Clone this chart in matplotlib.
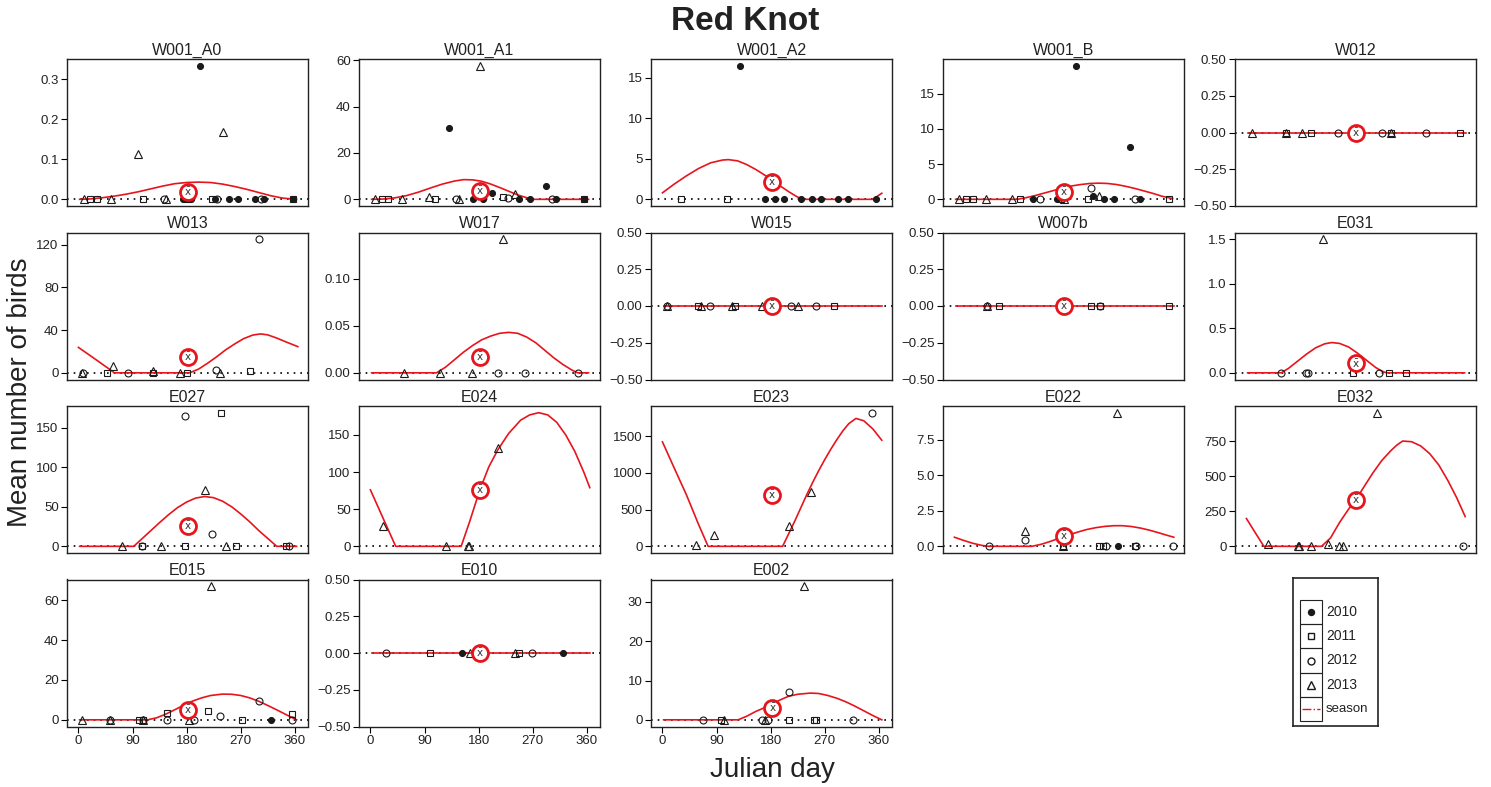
# Red Knot: mean number of birds per Julian day, one panel per site

import matplotlib
matplotlib.use('Agg')
import matplotlib.pyplot as plt
from matplotlib.patches import Rectangle
from matplotlib.ticker import MultipleLocator, FuncFormatter

plt.rcParams['font.family'] = ['Liberation Sans', 'DejaVu Sans']

# points: (year, julian day, mean count)
W001_A0_pts = [(2013, 10, 0), (2011, 20, 0), (2011, 31, 0), (2013, 54, 0), (2013, 99, 0.113),
               (2011, 108, 0), (2012, 143, 0), (2013, 146, 0), (2010, 174, 0), (2010, 178, 0),
               (2011, 181, 0), (2010, 184, 0), (2010, 188, 0), (2010, 203, 0.334), (2013, 240, 0.168),
               (2011, 223, 0), (2010, 228, 0), (2012, 230, 0), (2010, 250, 0), (2010, 266, 0),
               (2010, 293, 0), (2012, 303, 0), (2010, 309, 0), (2011, 357, 0), (2010, 357, 0)]
W001_A1_pts = [(2013, 8, 0), (2011, 20, 0), (2011, 30, 0), (2013, 53, 0), (2013, 97, 1.2),
               (2011, 108, 0), (2010, 131, 30.7), (2012, 143, 0), (2013, 148, 0), (2010, 171, 0),
               (2013, 182, 57.7), (2010, 187, 0), (2010, 203, 2.6), (2011, 220, 1.1), (2012, 229, 0.5),
               (2013, 240, 2.2), (2010, 248, 0), (2010, 265, 0), (2010, 292, 5.8), (2012, 302, 0),
               (2010, 309, 0), (2011, 355, 0), (2010, 355, 0)]
W001_A2_pts = [(2011, 31, 0), (2011, 107, 0), (2010, 129, 16.5), (2010, 171, 0), (2010, 187, 0),
               (2010, 202, 0), (2010, 231, 0), (2010, 249, 0), (2010, 264, 0), (2010, 292, 0),
               (2010, 309, 0), (2010, 356, 0)]
W001_B_pts = [(2013, 8, 0), (2011, 20, 0), (2011, 31, 0), (2013, 53, 0), (2013, 96, 0),
              (2011, 109, 0), (2010, 131, 0), (2012, 142, 0), (2010, 171, 0), (2011, 178, 0),
              (2013, 182, 0), (2010, 203, 19.0), (2011, 222, 0), (2012, 228, 1.6), (2010, 231, 0.5),
              (2013, 240, 0.5), (2010, 249, 0), (2010, 265, 0), (2010, 292, 7.4), (2012, 301, 0),
              (2010, 309, 0), (2011, 357, 0)]
W012_pts = [(2013, 9, 0), (2013, 66, 0), (2011, 66, 0), (2013, 93, 0), (2011, 107, 0),
            (2012, 153, 0), (2012, 226, 0), (2013, 240, 0), (2011, 241, 0), (2012, 298, 0),
            (2011, 356, 0)]
W013_pts = [(2013, 6, 0), (2012, 8, 0), (2011, 47, 0), (2013, 57, 6.6), (2012, 82, 0),
            (2011, 124, 0), (2013, 124, 2.0), (2013, 169, 0), (2011, 180, 0), (2012, 229, 2.5),
            (2013, 236, 0), (2011, 286, 1.5), (2012, 301, 125)]
W017_pts = [(2013, 56, 0), (2013, 115, 0), (2013, 169, 0), (2012, 212, 0), (2013, 221, 0.142),
            (2012, 257, 0), (2012, 345, 0)]
W015_pts = [(2013, 8, 0), (2012, 8, 0), (2011, 59, 0), (2013, 65, 0), (2012, 80, 0),
            (2013, 115, 0), (2011, 121, 0), (2013, 166, 0), (2012, 214, 0), (2013, 226, 0),
            (2012, 256, 0), (2011, 286, 0)]
W007b_pts = [(2013, 54, 0), (2012, 54, 0), (2011, 75, 0), (2011, 227, 0), (2012, 243, 0),
             (2011, 243, 0), (2011, 357, 0)]
E031_pts = [(2012, 58, 0), (2012, 99, 0), (2012, 102, 0), (2013, 127, 1.5), (2011, 178, 0),
            (2012, 220, 0), (2011, 238, 0), (2011, 265, 0)]
E027_pts = [(2013, 72, 0), (2011, 106, 0), (2012, 106, 0), (2013, 138, 0), (2012, 178, 165),
            (2011, 178, 0), (2013, 210, 70.8), (2012, 222, 15.7), (2011, 238, 169), (2013, 245, 0),
            (2011, 263, 0), (2011, 346, 0), (2012, 350, 0)]
E024_pts = [(2013, 21, 28), (2013, 125, 0), (2013, 162, 0), (2013, 164, 0), (2013, 212, 133)]
E023_pts = [(2013, 56, 15), (2013, 85, 160), (2013, 210, 283), (2013, 247, 739), (2012, 349, 1820)]
E022_pts = [(2012, 58, 0), (2013, 117, 1.1), (2012, 117, 0.47), (2011, 180, 0), (2013, 181, 0),
            (2011, 241, 0), (2011, 247, 0), (2012, 252, 0), (2013, 271, 9.4), (2010, 273, 0),
            (2011, 301, 0), (2012, 302, 0), (2012, 363, 0)]
E032_pts = [(2013, 36, 17), (2013, 85, 0), (2013, 88, 0), (2013, 107, 0), (2013, 135, 17),
            (2013, 154, 0), (2013, 160, 0), (2013, 217, 952), (2012, 360, 0)]
E015_pts = [(2013, 6, 0), (2013, 53, 0), (2012, 53, 0), (2011, 101, 0), (2013, 107, 0),
            (2011, 107, 0), (2012, 107, 0), (2012, 148, 0), (2011, 148, 3.2), (2013, 184, 0),
            (2012, 193, 0), (2011, 215, 4.2), (2013, 221, 67), (2012, 236, 1.7), (2011, 272, 0),
            (2012, 301, 9.2), (2010, 321, 0), (2011, 356, 2.8), (2012, 356, 0)]
E010_pts = [(2012, 26, 0), (2011, 99, 0), (2010, 152, 0), (2013, 165, 0), (2013, 240, 0),
            (2011, 248, 0), (2012, 269, 0), (2010, 320, 0)]
E002_pts = [(2012, 68, 0), (2011, 98, 0), (2013, 102, 0), (2012, 166, 0), (2013, 171, 0),
            (2012, 176, 0), (2012, 211, 7.2), (2011, 211, 0), (2013, 236, 34), (2011, 252, 0),
            (2011, 255, 0), (2012, 317, 0)]

# season curves: (days, values)
W001_A0_season = ([2, 20, 40, 60, 80, 100, 120, 140, 160, 180, 200, 220, 240, 260, 280, 300, 320, 340, 363],
                  [0, 0.001, 0.004, 0.008, 0.013, 0.019, 0.026, 0.033, 0.039, 0.042, 0.043, 0.042,
                   0.038, 0.032, 0.025, 0.017, 0.009, 0.003, 0])
W001_A1_season = ([2, 20, 40, 60, 80, 100, 120, 140, 155, 170, 185, 200, 215, 230, 245, 260, 272, 363],
                  [0, 0.1, 0.6, 1.6, 3.1, 4.9, 6.6, 7.9, 8.5, 8.4, 7.8, 6.6, 5.1, 3.5, 1.9, 0.7, 0, 0])
W001_A2_season = ([0, 20, 40, 60, 80, 100, 110, 125, 140, 155, 170, 182, 195, 210, 222, 232, 350, 365],
                  [0.8, 1.9, 2.9, 3.8, 4.5, 4.85, 4.9, 4.75, 4.3, 3.7, 3.0, 2.4, 1.7, 0.95, 0.4, 0, 0, 0.75])
W001_B_season = ([2, 105, 120, 135, 150, 165, 180, 195, 210, 225, 240, 255, 270, 285, 300, 315, 330, 345, 363],
                 [0, 0, 0.25, 0.55, 0.9, 1.25, 1.6, 1.9, 2.1, 2.25, 2.3, 2.25, 2.1, 1.85, 1.55, 1.2,
                  0.85, 0.45, 0.1])
flat_season = ([2, 365], [0, 0])
W013_season = ([0, 30, 60, 185, 200, 215, 230, 245, 260, 275, 290, 303, 315, 330, 345, 365],
               [23.8, 12, 0, 0, 3.5, 9, 15, 21.5, 27, 32, 35.3, 36.4, 35.5, 32.5, 29, 24.5])
W017_season = ([2, 110, 125, 140, 155, 170, 185, 200, 215, 230, 245, 260, 275, 290, 305, 320, 335, 345, 363],
               [0, 0, 0.006, 0.014, 0.022, 0.029, 0.035, 0.039, 0.042, 0.043, 0.042, 0.038, 0.032,
                0.024, 0.016, 0.009, 0.003, 0, 0])
E031_season = ([2, 58, 70, 85, 100, 115, 130, 142, 155, 170, 185, 200, 215, 225, 233, 363],
               [0, 0, 0.05, 0.13, 0.21, 0.28, 0.325, 0.34, 0.33, 0.29, 0.22, 0.14, 0.06, 0.02, 0, 0])
E027_season = ([2, 92, 105, 120, 135, 150, 165, 180, 195, 210, 225, 240, 255, 270, 285, 300, 315, 330, 363],
               [0, 0, 9, 19.5, 30, 40, 49, 56, 61, 63, 61.5, 57, 50, 41, 31, 20, 10, 0, 0])
E024_season = ([0, 42, 151, 165, 182, 197, 212, 230, 250, 265, 280, 295, 310, 325, 340, 355, 365],
               [76, 0, 0, 33, 76, 107, 130, 152, 170, 177, 180, 177, 167, 150, 128, 100, 79])
E023_season = ([0, 20, 40, 60, 76, 200, 210, 220, 230, 240, 250, 260, 270, 280, 290, 300, 310, 322, 335, 350, 365],
               [1423, 1060, 700, 300, 0, 0, 170, 340, 520, 700, 870, 1030, 1180, 1320, 1450, 1570,
                1670, 1742, 1710, 1600, 1445])
E022_season = ([0, 15, 30, 45, 56, 129, 145, 160, 175, 190, 205, 220, 235, 250, 265, 280, 295, 310, 325, 340, 355, 365],
               [0.64, 0.42, 0.22, 0.07, 0, 0, 0.15, 0.35, 0.58, 0.80, 1.0, 1.18, 1.31, 1.40, 1.45,
                1.45, 1.39, 1.28, 1.13, 0.95, 0.76, 0.64])
E032_season = ([0, 15, 29, 125, 140, 155, 170, 182, 195, 210, 225, 240, 250, 260, 275, 290, 305, 320, 335, 350, 364],
               [198, 95, 0, 0, 60, 170, 265, 331, 420, 520, 610, 680, 720, 750, 745, 715, 660, 580,
                470, 345, 212])
E015_season = ([2, 115, 130, 145, 160, 175, 190, 205, 220, 240, 255, 270, 285, 300, 315, 330, 345, 363],
               [0, 0, 1.0, 2.8, 5.0, 7.3, 9.4, 11.0, 12.2, 12.9, 12.8, 12.2, 11.0, 9.3, 7.2, 5.0, 2.7, 0])
E002_season = ([2, 126, 140, 155, 170, 183, 195, 210, 225, 246, 260, 275, 290, 305, 320, 335, 350, 365],
               [0, 0, 0.9, 2.1, 3.1, 4.0, 5.0, 6.0, 6.5, 6.8, 6.7, 6.2, 5.5, 4.6, 3.5, 2.3, 1.1, 0])

# overall mean marker (day, value)
means = {'W001_A0': (182, 0.019), 'W001_A1': (182, 3.6), 'W001_A2': (182, 2.1),
         'W001_B': (182, 1.05), 'W012': (182, 0), 'W013': (182, 15), 'W017': (182, 0.017),
         'W015': (182, 0), 'W007b': (182, 0), 'E031': (182, 0.105), 'E027': (182, 25.4),
         'E024': (182, 76), 'E023': (182, 702), 'E022': (182, 0.7), 'E032': (182, 331),
         'E015': (182, 5), 'E010': (182, 0), 'E002': (183, 2.9)}

sites = [('W001_A0', W001_A0_pts, W001_A0_season), ('W001_A1', W001_A1_pts, W001_A1_season),
         ('W001_A2', W001_A2_pts, W001_A2_season), ('W001_B', W001_B_pts, W001_B_season),
         ('W012', W012_pts, flat_season),
         ('W013', W013_pts, W013_season), ('W017', W017_pts, W017_season),
         ('W015', W015_pts, flat_season), ('W007b', W007b_pts, flat_season),
         ('E031', E031_pts, E031_season),
         ('E027', E027_pts, E027_season), ('E024', E024_pts, E024_season),
         ('E023', E023_pts, E023_season), ('E022', E022_pts, E022_season),
         ('E032', E032_pts, E032_season),
         ('E015', E015_pts, E015_season), ('E010', E010_pts, flat_season),
         ('E002', E002_pts, E002_season)]

# y tick step and decimals for each panel
ytick = {'W001_A0': (0.1, 1), 'W001_A1': (20, 0), 'W001_A2': (5, 0), 'W001_B': (5, 0),
         'W012': (0.25, 2), 'W013': (40, 0), 'W017': (0.05, 2), 'W015': (0.25, 2),
         'W007b': (0.25, 2), 'E031': (0.5, 1), 'E027': (50, 0), 'E024': (50, 0),
         'E023': (500, 0), 'E022': (2.5, 1), 'E032': (250, 0), 'E015': (20, 0),
         'E010': (0.25, 2), 'E002': (10, 0)}

years = [2010, 2011, 2012, 2013]
styles = {2010: dict(marker='o', ms=4.3, mfc='#1a1a1a', mec='#1a1a1a'),
          2011: dict(marker='s', ms=4.8, mfc='none', mec='#1a1a1a'),
          2012: dict(marker='o', ms=5.0, mfc='none', mec='#1a1a1a'),
          2013: dict(marker='^', ms=6.3, mfc='none', mec='#1a1a1a')}

W, H = 1491, 787
fig = plt.figure(figsize=(W / 100, H / 100), dpi=100)

lefts = [67, 359, 651, 943, 1235]
tops = [59, 232.5, 406, 579.5]
pw, ph = 241, 147

for i, (name, pts, season) in enumerate(sites):
    r, c = divmod(i, 5)
    ax = fig.add_axes([lefts[c] / W, 1 - (tops[r] + ph) / H, pw / W, ph / H])
    ax.axhline(0, color='black', lw=1.2, ls=(0, (1, 3)), zorder=1)
    for yr in years:
        xs = [p[1] for p in pts if p[0] == yr]
        ys = [p[2] for p in pts if p[0] == yr]
        ax.plot(xs, ys, ls='none', mew=0.8, zorder=3, **styles[yr])
    ax.plot(season[0], season[1], color='#e8141c', lw=1.2, zorder=2)
    mx, my = means[name]
    ax.plot([mx], [my], marker='o', ms=11.5, mfc='white', mec='#e8141c', mew=2, zorder=4)
    ax.text(mx, my, r'$\bar{\mathrm{x}}$', fontsize=7.5, color='#333333',
            ha='center', va='center', zorder=5)

    top = max([p[2] for p in pts] + list(season[1]) + [my])
    if top == 0:
        ax.set_ylim(-0.5, 0.5)
    else:
        ax.set_ylim(-0.05 * top, 1.05 * top)
    ax.set_xlim(-19, 382)

    step, dec = ytick[name]
    ax.yaxis.set_major_locator(MultipleLocator(step))
    ax.yaxis.set_major_formatter(FuncFormatter(
        lambda v, p, d=dec: ('%.*f' % (d, v)).replace('-', '\u2212')))
    ax.tick_params(axis='y', direction='out', length=4, width=0.8, labelsize=9.5,
                   labelcolor='#222222', pad=2)
    if r == 3:
        ax.set_xticks([0, 90, 180, 270, 360])
        ax.tick_params(axis='x', direction='out', length=4, width=0.8, labelsize=9.5,
                       labelcolor='#222222', pad=2)
    else:
        ax.set_xticks([])
    for s in ax.spines.values():
        s.set_linewidth(1.0)
        s.set_color('#222222')
    ax.set_title(name, fontsize=11.5, color='#222222', pad=3)

# legend drawn as a boxed table
lg = fig.add_axes([1293 / W, 1 - 726 / H, 85 / W, 148 / H])
lg.set_xlim(0, 85)
lg.set_ylim(148, 0)
lg.set_xticks([])
lg.set_yticks([])
for s in lg.spines.values():
    s.set_linewidth(1.2)
    s.set_color('#222222')
labels = ['2010', '2011', '2012', '2013', 'season']
for k, lab in enumerate(labels):
    y0 = 22 + 24.2 * k
    lg.add_patch(Rectangle((7, y0), 22, 24.2, fill=False, lw=0.8, ec='#222222'))
    yc = y0 + 12.1
    if k < 4:
        lg.plot([18], [yc], mew=1.0, **styles[years[k]])
    else:
        lg.plot([9, 27], [yc, yc], color='#e8141c', lw=1.0, ls='-.')
    lg.text(33, yc, lab, fontsize=10 if k < 4 else 9.5, va='center', ha='left',
            color='#222222')

fig.text(745 / W, 1 - 22 / H, 'Red Knot', fontsize=24, fontweight='bold',
         ha='center', va='center', color='#222222')
fig.text(20 / W, 1 - 392 / H, 'Mean number of birds', fontsize=20, rotation=90,
         ha='center', va='center', color='#222222')
fig.text(772 / W, 1 - 770 / H, 'Julian day', fontsize=20, ha='center', va='center',
         color='#222222')

fig.savefig('out.png', dpi=100)
